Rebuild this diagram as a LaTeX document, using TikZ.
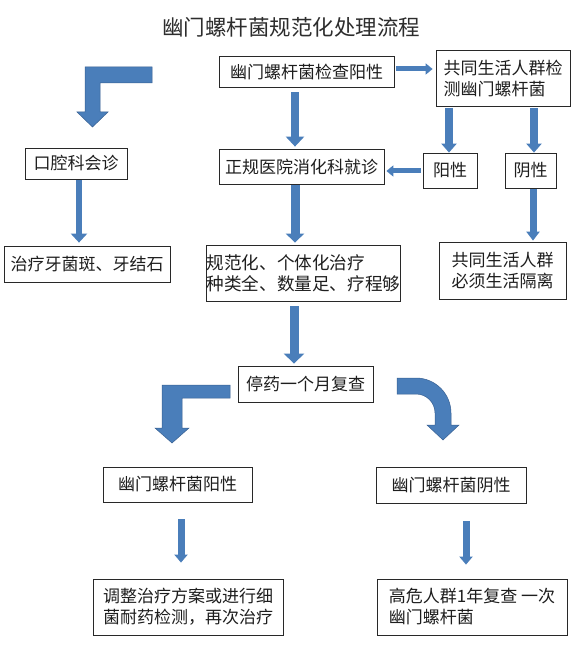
\documentclass[tikz,border=0pt]{standalone}
\usepackage{fontspec}
\setmainfont{Noto Sans CJK SC}
\usetikzlibrary{arrows.meta}
\definecolor{arrowblue}{RGB}{74,126,186}
\definecolor{arrowedge}{RGB}{56,96,146}
\definecolor{boxline}{RGB}{40,40,40}
\definecolor{txt}{RGB}{30,30,30}
\begin{document}
\begin{tikzpicture}[x=1pt,y=-1pt,
  box/.style={draw=boxline, line width=0.8pt, fill=white, inner sep=0pt, text=txt,
    font=\fontsize{17}{21}\selectfont, align=left},
  barrow/.style n args={3}{draw=arrowblue, line width=#1, -{Triangle[width=#2,length=#3]}},
  bentarrow/.style={fill=arrowblue, draw=arrowedge, line width=0.5pt}
]
\useasboundingbox (0,0) rectangle (584,655);
\fill[white] (0,0) rectangle (584,655);

% title
\node[font=\fontsize{21.5}{24}\selectfont, text={rgb,255:red,45;green,45;blue,45}] (title) at (291,27) {幽门螺杆菌规范化处理流程};

% boxes
\node[box, minimum width=175pt, minimum height=31pt] (A) at (306.5,71.5) {幽门螺杆菌检查阳性};
\node[box, minimum width=134pt, minimum height=56pt] (B) at (503,78) {共同生活人群检\\测幽门螺杆菌};
\node[box, minimum width=102pt, minimum height=31pt] (C) at (76,163.5) {口腔科会诊};
\node[box, minimum width=165pt, minimum height=35pt] (D) at (301.5,166.5) {正规医院消化科就诊};
\node[box, minimum width=54pt, minimum height=35pt] (E) at (450,170.5) {阳性};
\node[box, minimum width=51pt, minimum height=35pt] (F) at (530.5,170.5) {阴性};
\node[box, minimum width=166pt, minimum height=36pt] (G) at (87,264) {治疗牙菌斑、牙结石};
\node[box, minimum width=187pt, minimum height=56pt, font=\fontsize{17.6}{21}\selectfont] (H) at (303.5,273) {规范化、个体化治疗\\种类全、数量足、疗程够};
\node[box, minimum width=127pt, minimum height=57pt] (I) at (502.5,270.5) {共同生活人群\\必须生活隔离};
\node[box, minimum width=135pt, minimum height=36pt] (J) at (305.5,384) {停药一个月复查};
\node[box, minimum width=149pt, minimum height=35pt] (K) at (177.5,484.5) {幽门螺杆菌阳性};
\node[box, minimum width=150pt, minimum height=36pt] (L) at (451,485) {幽门螺杆菌阴性};
\node[box, minimum width=190pt, minimum height=56pt] (M) at (188,607) {调整治疗方案或进行细\\菌耐药检测，再次治疗};
\node[box, minimum width=190pt, minimum height=56pt] (N) at (472,607) {高危人群1年复查 一次\\幽门螺杆菌};

% straight block arrows
\draw[barrow={8.5pt}{18pt}{10pt}] ([xshift=-11.5pt,yshift=-5pt]A.south) -- ([xshift=-6.5pt,yshift=2pt]D.north);
\draw[barrow={5pt}{11pt}{7pt}] ([xshift=2pt,yshift=2.5pt]A.east) -- ([xshift=-3pt,yshift=9pt]B.west);
\draw[barrow={8pt}{15pt}{9pt}] ([xshift=-54pt,yshift=-2pt]B.south) -- ([xshift=-1pt]E.north);
\draw[barrow={8pt}{15pt}{9pt}] ([xshift=31pt,yshift=-2pt]B.south) -- ([xshift=3.5pt]F.north);
\draw[barrow={5pt}{11pt}{7pt}] ([xshift=-2pt,yshift=-0.5pt]E.west) -- ([xshift=2pt,yshift=-4.5pt]D.east);
\draw[barrow={6pt}{16pt}{9pt}] ([xshift=3pt,yshift=-1pt]C.south) -- ([xshift=-8pt,yshift=3pt]G.north);
\draw[barrow={9pt}{18pt}{9pt}] ([xshift=-6.5pt,yshift=-1pt]D.south) -- ([xshift=-8.5pt,yshift=2pt]H.north);
\draw[barrow={7pt}{13pt}{9pt}] ([xshift=2.5pt,yshift=-1pt]F.south) -- ([xshift=30.5pt,yshift=1pt]I.north);
\draw[barrow={9pt}{20pt}{10pt}] ([xshift=-9.5pt,yshift=-5pt]H.south) -- ([xshift=-11.5pt,yshift=2pt]J.north);
\draw[barrow={7pt}{13pt}{8pt}] ([xshift=3.5pt,yshift=-17pt]K.south) -- ([xshift=-7pt,yshift=16pt]M.north);
\draw[barrow={7pt}{13pt}{8pt}] ([xshift=15pt,yshift=-18pt]L.south) -- ([xshift=-6pt,yshift=14pt]N.north);

% bent arrows
\draw[bentarrow] (152,67) -- (85,67) -- (85,112) -- (77,112) -- (92.5,127) -- (108,112) -- (100,112) -- (100,83) -- (152,83) -- cycle;
\draw[bentarrow] (230,385) -- (162,385) -- (162,428) -- (155,428) -- (172,443) -- (189,428) -- (182,428) -- (182,398) -- (230,398) -- cycle;
\draw[bentarrow] (397,378) -- (416,378) .. controls (435.3,378) and (451,393.7) .. (451,413)
  -- (451,425) -- (459,425) -- (443,440) -- (427,425) -- (435,425) -- (435,413)
  .. controls (435,402.5) and (426.5,394) .. (416,394) -- (397,394) -- cycle;
\end{tikzpicture}
\end{document}
